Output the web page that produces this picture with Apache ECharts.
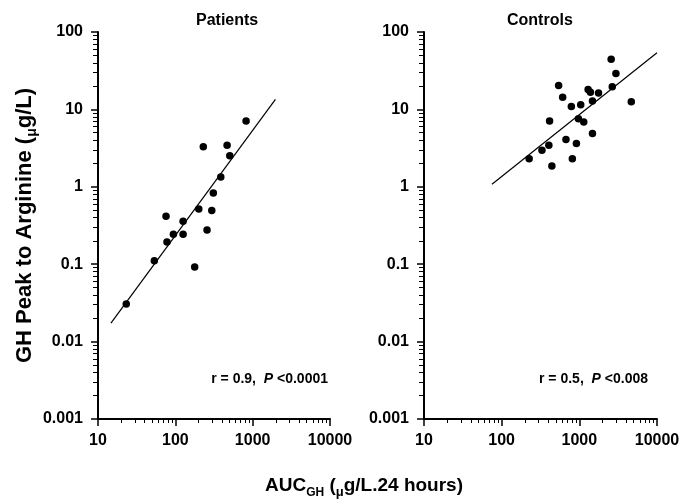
<!DOCTYPE html>
<html>
<head>
<meta charset="utf-8">
<script src="https://cdn.jsdelivr.net/npm/echarts@6/dist/echarts.min.js"></script>
<style>
  html, body { margin: 0; padding: 0; background: #fff; }
  #chart { width: 683px; height: 503px; }
</style>
</head>
<body>
<div id="chart"></div>
<script>
// Patients: AUC GH vs GH peak to arginine
var patAuc  = [23.2, 53.5, 78, 75.8, 94.4, 126, 126, 178, 201, 230, 257, 296, 310, 387, 467, 506, 822];
var patPeak = [0.0306, 0.111, 0.194, 0.417, 0.244, 0.244, 0.359, 0.092, 0.518, 3.28, 0.277, 0.493, 0.834, 1.34, 3.45, 2.51, 7.1];
// Controls
var ctrlAuc  = [226, 330, 405, 414, 443, 541, 610, 673, 789, 813, 917, 973, 1042, 1140, 1297, 1390, 1476, 1476, 1767, 2570, 2655, 2958, 4667];
var ctrlPeak = [2.30, 2.97, 3.45, 7.1, 1.85, 20.4, 14.4, 4.09, 10.9, 2.30, 3.63, 7.56, 11.5, 6.85, 18.1, 16.6, 12.8, 4.89, 16.3, 44.3, 19.6, 29.2, 12.6];
// regression lines (end points)
var patFitX = [14.7, 1970];
var patFitY = [0.0173, 13.5];
var ctrlFitX = [75, 10000];
var ctrlFitY = [1.08, 54];

var FONT = "'Liberation Sans', Arial, sans-serif";

function pairs(xs, ys) {
    var ret = [];
    for (var i = 0; i < xs.length; i++) ret.push([xs[i], ys[i]]);
    return ret;
}

function fmt(v) { return String(+(+v).toPrecision(6)); }

function xAxisFor(idx) {
    return {
        type: 'log', gridIndex: idx, min: 10, max: 10000, logBase: 10,
        axisLine: { onZero: false, lineStyle: { color: '#000', width: 2 } },
        axisTick: { length: 7, lineStyle: { color: '#000', width: 1.5 } },
        minorTick: { show: true, splitNumber: 9, length: 4, lineStyle: { color: '#000', width: 1 } },
        axisLabel: { color: '#000', fontSize: 16, fontWeight: 'bold', fontFamily: FONT, margin: 14, formatter: fmt },
        splitLine: { show: false },
        minorSplitLine: { show: false }
    };
}
function yAxisFor(idx) {
    return {
        type: 'log', gridIndex: idx, min: 0.001, max: 100,
        axisLine: { lineStyle: { color: '#000', width: 2 } },
        axisTick: { length: 7, lineStyle: { color: '#000', width: 1.5 } },
        minorTick: { show: true, splitNumber: 9, length: 5, lineStyle: { color: '#000', width: 1 } },
        axisLabel: { color: '#000', fontSize: 16, fontWeight: 'bold', fontFamily: FONT, margin: 15, formatter: fmt },
        splitLine: { show: false },
        minorSplitLine: { show: false }
    };
}

var yLeft = yAxisFor(0);
yLeft.name = '{m|GH Peak to Arginine (}{u|\u03bc}{m|g/L)}';
yLeft.nameLocation = 'middle';
yLeft.nameGap = 58;
yLeft.nameTextStyle = {
    rich: {
        m: { fontSize: 22, fontWeight: 'bold', fontFamily: FONT, color: '#000', lineHeight: 28, verticalAlign: 'middle' },
        u: { fontSize: 14, fontWeight: 'bold', fontFamily: FONT, color: '#000', lineHeight: 14, verticalAlign: 'bottom' }
    }
};

var noteRich = {
    a: { fontSize: 14, fontFamily: FONT, color: '#000', lineHeight: 16 },
    p: { fontSize: 14, fontFamily: FONT, fontStyle: 'italic', color: '#000', lineHeight: 16 }
};

var chart = echarts.init(document.getElementById('chart'));

var option = {
    animation: false,
    title: [
        { text: 'Patients', left: 196, top: 13, padding: 0,
          textStyle: { color: '#000', fontSize: 16, fontWeight: 'bold', fontFamily: FONT } },
        { text: 'Controls', left: 507, top: 13, padding: 0,
          textStyle: { color: '#000', fontSize: 16, fontWeight: 'bold', fontFamily: FONT } },
        { text: '{a|r = 0.9,  }{p|P}{a| <0.0001}', right: 355, top: 371, padding: 0,
          textStyle: { rich: noteRich } },
        { text: '{a|r = 0.5,  }{p|P}{a| <0.008}', right: 35, top: 371, padding: 0,
          textStyle: { rich: noteRich } },
        { text: '{m|AUC}{s|GH}{m| (}{u|\u03bc}{m|g/L.24 hours)}', left: 265, top: 473, padding: 0,
          textStyle: { rich: {
              m: { fontSize: 19, fontWeight: 'bold', fontFamily: FONT, color: '#000', lineHeight: 26, verticalAlign: 'middle' },
              s: { fontSize: 12, fontWeight: 'bold', fontFamily: FONT, color: '#000', lineHeight: 13, verticalAlign: 'bottom' },
              u: { fontSize: 13, fontWeight: 'bold', fontFamily: FONT, color: '#000', lineHeight: 13, verticalAlign: 'bottom' }
          } } }
    ],
    grid: [
        { left: 98, top: 32, width: 232, height: 387 },
        { left: 424, top: 32, width: 233, height: 387 }
    ],
    xAxis: [xAxisFor(0), xAxisFor(1)],
    yAxis: [yLeft, yAxisFor(1)],
    series: [
        { type: 'scatter', xAxisIndex: 0, yAxisIndex: 0, data: pairs(patAuc, patPeak), symbolSize: 7.5, itemStyle: { color: '#000', opacity: 1 } },
        { type: 'line', xAxisIndex: 0, yAxisIndex: 0, data: pairs(patFitX, patFitY), showSymbol: false, lineStyle: { color: '#000', width: 1.2 } },
        { type: 'scatter', xAxisIndex: 1, yAxisIndex: 1, data: pairs(ctrlAuc, ctrlPeak), symbolSize: 7.5, itemStyle: { color: '#000', opacity: 1 } },
        { type: 'line', xAxisIndex: 1, yAxisIndex: 1, data: pairs(ctrlFitX, ctrlFitY), showSymbol: false, lineStyle: { color: '#000', width: 1.2 } }
    ]
};

chart.setOption(option);
</script>
</body>
</html>
